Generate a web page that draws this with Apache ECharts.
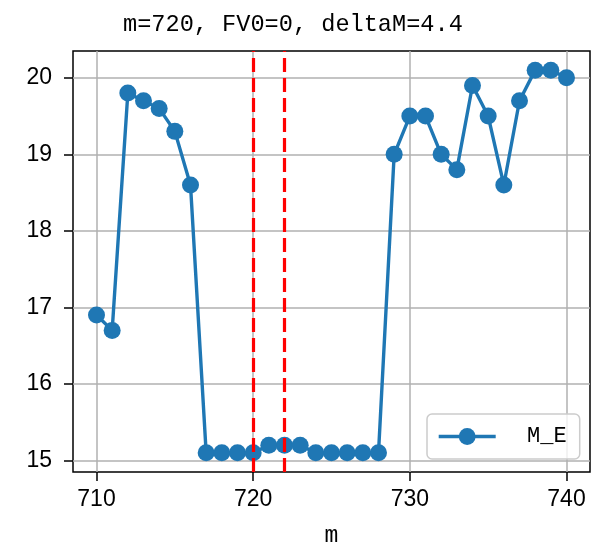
<!DOCTYPE html>
<html>
<head>
<meta charset="utf-8">
<script src="https://cdn.jsdelivr.net/npm/echarts@6/dist/echarts.min.js"></script>
<style>html,body{margin:0;padding:0;background:#fff;}#c{width:591px;height:553px;}</style>
</head>
<body>
<div id="c"></div>
<script>
const titleText = 'm=720, FV0=0, deltaM=4.4';
const seriesName = 'M_E';
const xValues = [710,711,712,713,714,715,716,717,718,719,720,721,722,723,724,725,726,727,728,729,730,731,732,733,734,735,736,737,738,739,740];
const mE = [16.9,16.7,19.8,19.7,19.6,19.3,18.6,15.1,15.1,15.1,15.1,15.2,15.2,15.2,15.1,15.1,15.1,15.1,15.1,19.0,19.5,19.5,19.0,18.8,19.9,19.5,18.6,19.7,20.1,20.1,20.0];
const vLines = [720, 722];
const xTicks = [710, 720, 730, 740];
const yTicks = [15, 16, 17, 18, 19, 20];
const xRange = [708.5, 741.5];
const yRange = [14.85, 20.35];

const monoFont = '"Liberation Mono", "DejaVu Sans Mono", monospace';
const tickFont = '"Liberation Sans", Arial, sans-serif';
const gridColor = '#b0b0b0';

const chart = echarts.init(document.getElementById('c'), null, {renderer: 'canvas'});
const option = {
  animation: false,
  title: {
    text: titleText,
    left: 123, top: 13, padding: 0,
    textStyle: {fontFamily: monoFont, fontSize: 23.6, fontWeight: 'normal', color: '#000'}
  },
  legend: {
    data: [seriesName],
    left: 427, top: 414,
    padding: [11.5, 13, 11.5, 10],
    itemWidth: 57, itemHeight: 21,
    backgroundColor: 'rgba(255,255,255,0.8)',
    borderColor: '#cccccc', borderWidth: 1.5, borderRadius: 5,
    lineStyle: {width: 3.4, color: '#1f77b4'},
    formatter: function (n) { return '  ' + n; },
    textStyle: {fontFamily: monoFont, fontSize: 22, color: '#000'}
  },
  grid: {
    left: 73, top: 51, width: 517, height: 421,
    show: true, borderColor: '#000', borderWidth: 1.5, backgroundColor: '#fff',
    containLabel: false
  },
  xAxis: {
    type: 'value', min: xRange[0], max: xRange[1],
    name: 'm', nameLocation: 'middle', nameGap: 52,
    nameTextStyle: {fontFamily: monoFont, fontSize: 23, color: '#000'},
    axisLine: {show: false},
    axisTick: {show: true, customValues: xTicks, length: 9, lineStyle: {color: '#000', width: 1.5}},
    axisLabel: {customValues: xTicks, margin: 16, fontFamily: tickFont, fontSize: 23, color: '#000'},
    splitLine: {show: false}
  },
  yAxis: {
    type: 'value', min: yRange[0], max: yRange[1],
    axisLine: {show: false},
    axisTick: {show: true, customValues: yTicks, length: 9, lineStyle: {color: '#000', width: 1.5}},
    axisLabel: {customValues: yTicks, margin: 21, fontFamily: tickFont, fontSize: 23, color: '#000'},
    splitLine: {show: false}
  },
  series: [
    {
      name: '_grid', type: 'line', data: [], silent: true, z: 1,
      markLine: {
        silent: true, symbol: ['none', 'none'], z: 1, animation: false,
        label: {show: false},
        lineStyle: {color: gridColor, width: 1.5, type: 'solid'},
        emphasis: {disabled: true},
        data: xTicks.map(v => ({xAxis: v})).concat(yTicks.map(v => ({yAxis: v})))
      }
    },
    {
      name: seriesName, type: 'line', z: 3,
      data: xValues.map((x, i) => [x, mE[i]]),
      symbol: 'circle', symbolSize: 17, showAllSymbol: true,
      itemStyle: {color: '#1f77b4'},
      lineStyle: {color: '#1f77b4', width: 3.4},
      emphasis: {disabled: true}
    },
    {
      name: '_vlines', type: 'line', data: [], silent: true, z: 10,
      markLine: {
        silent: true, symbol: ['none', 'none'], z: 10, animation: false,
        label: {show: false},
        lineStyle: {color: '#ff0000', width: 3.2, type: [14, 6]},
        emphasis: {disabled: true},
        data: vLines.map(v => ({xAxis: v}))
      }
    }
  ]
};
chart.setOption(option);
</script>
</body>
</html>
